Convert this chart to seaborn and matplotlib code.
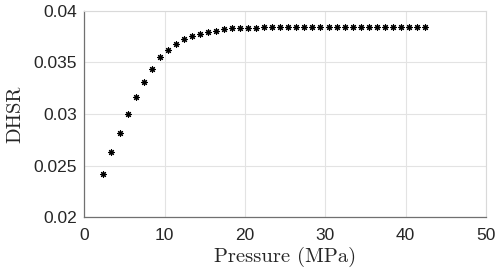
import matplotlib
matplotlib.use("Agg")
import matplotlib.pyplot as plt
import seaborn as sns
import pandas as pd

# values
pressure = [2.4, 3.4, 4.4, 5.4, 6.4, 7.4, 8.4, 9.4, 10.4, 11.4,
            12.4, 13.4, 14.4, 15.4, 16.4, 17.4, 18.4, 19.4, 20.4, 21.4,
            22.4, 23.4, 24.4, 25.4, 26.4, 27.4, 28.4, 29.4, 30.4, 31.4,
            32.4, 33.4, 34.4, 35.4, 36.4, 37.4, 38.4, 39.4, 40.4, 41.4, 42.4]
dhsr = [0.0242, 0.0263, 0.0282, 0.0300, 0.0316, 0.0331, 0.0344, 0.0355, 0.0362, 0.0368,
        0.0373, 0.0376, 0.0378, 0.0380, 0.0381, 0.0382, 0.0383, 0.0383, 0.03835, 0.03838,
        0.0384, 0.0384, 0.0384, 0.0384, 0.0384, 0.0384, 0.0384, 0.0384, 0.0384, 0.0384,
        0.0384, 0.0384, 0.0384, 0.0384, 0.0384, 0.0384, 0.0384, 0.0384, 0.0384, 0.0384, 0.0384]
xticks = [0, 10, 20, 30, 40, 50]
yticks = [0.02, 0.025, 0.03, 0.035, 0.04]

df = pd.DataFrame({"Pressure": pressure, "DHSR": dhsr})

sns.set_style("white")
plt.rcParams['font.family'] = ['Liberation Sans', 'DejaVu Sans']

fig = plt.figure(figsize=(4.98, 2.73), dpi=100)
ax = fig.add_axes([0.169, 0.205, 0.807, 0.755])

sns.scatterplot(data=df, x="Pressure", y="DHSR", marker=(8, 2, 0), color="black",
                s=18, linewidth=0.8, edgecolor="#1a1a1a", ax=ax, zorder=3)

ax.set_xlim(0, 50)
ax.set_ylim(0.02, 0.04)
ax.set_xticks(xticks)
ax.set_yticks(yticks)
ax.set_xticklabels([str(t) for t in xticks])
ax.set_yticklabels(["0.02", "0.025", "0.03", "0.035", "0.04"])
ax.grid(True, color="#e3e3e3", linewidth=0.8)
ax.set_axisbelow(True)

for side in ["top", "right"]:
    ax.spines[side].set_color("#d9d9d9")
    ax.spines[side].set_linewidth(0.8)
for side in ["left", "bottom"]:
    ax.spines[side].set_color("#707070")
    ax.spines[side].set_linewidth(0.9)

ax.tick_params(direction="in", length=3, width=0.8, color="#707070",
               labelsize=12.5, labelcolor="#262626")
ax.tick_params(axis="x", pad=8)
ax.tick_params(axis="y", pad=5)

ax.set_xlabel("Pressure (MPa)", family="cmr10", fontsize=14.8, color="#262626", labelpad=3)
ax.set_ylabel("DHSR", family="cmr10", fontsize=14.8, color="#262626", labelpad=7)

fig.savefig("out.png", dpi=100)
